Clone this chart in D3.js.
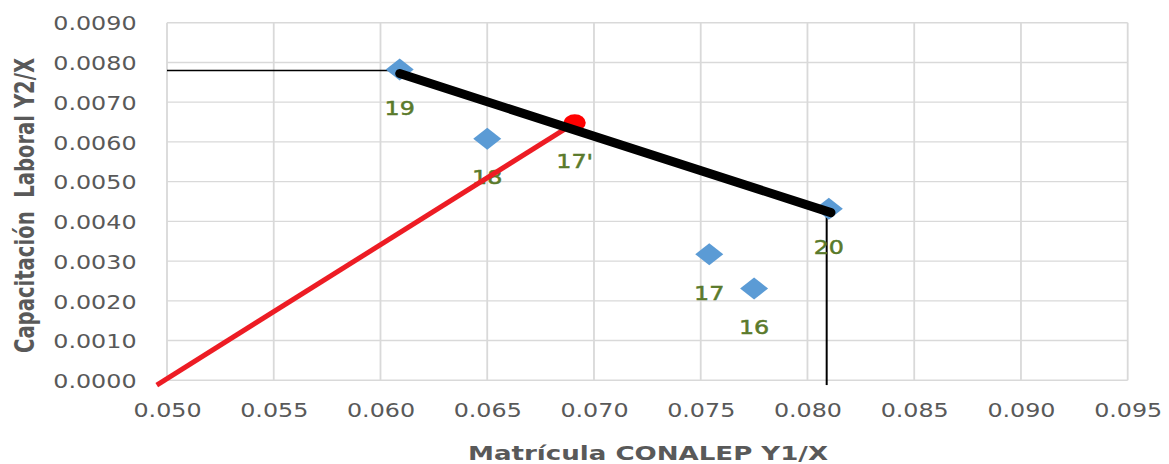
<!DOCTYPE html>
<html>
<head>
<meta charset="utf-8">
<script src="https://cdn.jsdelivr.net/npm/d3@7"></script>
<style>
  html, body { margin: 0; padding: 0; background: #fff; }
  svg { display: block; }
</style>
</head>
<body>
<svg id="chart" width="1169" height="464"></svg>
<script>
// ---- data ----
const pointLabels = ["16", "17", "18", "19", "20"];
const pointX = [0.0775, 0.0754, 0.0650, 0.0609, 0.0810];
const pointY = [0.00231, 0.00317, 0.00608, 0.00782, 0.00432];

const redPointLabel = ["17'"];
const redPointX = [0.0691];
const redPointY = [0.00648];

const redLineX = [0.04952, 0.0691];
const redLineY = [-0.00012, 0.00648];

const blackLineX = [0.0609, 0.0811];
const blackLineY = [0.00772, 0.00422];

const guideHX = [0.0500, 0.0608];
const guideHY = [0.0078, 0.0078];
const guideVX = [0.0809, 0.0809];
const guideVY = [0.00422, -0.00012];

const xTickValues = [0.050, 0.055, 0.060, 0.065, 0.070, 0.075, 0.080, 0.085, 0.090, 0.095];
const yTickValues = [0.0000, 0.0010, 0.0020, 0.0030, 0.0040, 0.0050, 0.0060, 0.0070, 0.0080, 0.0090];

const xTitle = "Matrícula CONALEP Y1/X";
const yTitle = "Capacitación  Laboral Y2/X";

// ---- layout ----
const svg = d3.select("#chart");
const x = d3.scaleLinear().domain([0.050, 0.095]).range([167, 1127.7]);
const y = d3.scaleLinear().domain([0, 0.009]).range([380.3, 22.7]);
const SX = 1.19; // horizontal stretch of glyphs in reference
const FONT = "'DejaVu Sans', Verdana, sans-serif";

// gridlines
const grid = svg.append("g");
grid.selectAll("line.v").data(xTickValues).join("line")
  .attr("x1", d => x(d)).attr("x2", d => x(d))
  .attr("y1", y(0.009)).attr("y2", y(0))
  .attr("stroke", "#d9d9d9").attr("stroke-width", 1.8);
grid.selectAll("line.h").data(yTickValues).join("line")
  .attr("x1", x(0.050)).attr("x2", x(0.095))
  .attr("y1", d => y(d)).attr("y2", d => y(d))
  .attr("stroke", "#d9d9d9").attr("stroke-width", 1.4);

// axes (labels only)
const xAxis = svg.append("g").attr("transform", `translate(0,${y(0)})`)
  .call(d3.axisBottom(x).tickValues(xTickValues).tickFormat(d3.format(".3f")).tickSize(0));
xAxis.select(".domain").remove();
xAxis.selectAll("text")
  .attr("y", 36.7).attr("dy", 0)
  .attr("transform", `scale(${SX},1)`)
  .attr("fill", "#595959")
  .style("font-family", FONT).style("font-size", "20px");

const yAxis = svg.append("g").attr("transform", `translate(${x(0.050)},0)`)
  .call(d3.axisLeft(y).tickValues(yTickValues).tickFormat(d3.format(".4f")).tickSize(0));
yAxis.select(".domain").remove();
yAxis.selectAll("text")
  .attr("x", -30.5 / SX).attr("dy", "0.36em")
  .attr("transform", `scale(${SX},1)`)
  .attr("fill", "#595959")
  .style("font-family", FONT).style("font-size", "20px");

// titles
svg.append("text")
  .attr("x", 648).attr("y", 460)
  .attr("text-anchor", "middle")
  .attr("textLength", 360).attr("lengthAdjust", "spacingAndGlyphs")
  .attr("fill", "#595959").attr("font-weight", "bold")
  .style("font-family", FONT).style("font-size", "20px")
  .text(xTitle);

svg.append("text")
  .attr("xml:space", "preserve")
  .attr("transform", "translate(34,205.5) scale(1.33,1) rotate(-90)")
  .attr("text-anchor", "middle")
  .attr("textLength", 295).attr("lengthAdjust", "spacingAndGlyphs")
  .attr("fill", "#595959").attr("font-weight", "bold")
  .style("font-family", FONT).style("font-size", "19.5px")
  .text(yTitle);

const line = d3.line().x(d => x(d[0])).y(d => y(d[1]));

// thin guide lines
svg.append("path").datum(d3.zip(guideHX, guideHY)).attr("d", line)
  .attr("stroke", "#000").attr("stroke-width", 1.5).attr("fill", "none");
svg.append("path").datum(d3.zip(guideVX, guideVY)).attr("d", line)
  .attr("stroke", "#000").attr("stroke-width", 2).attr("fill", "none");

// data labels
const labelGroup = svg.append("g");
const labels = pointLabels.map((l, i) => ({ l, x: pointX[i], y: pointY[i] }))
  .concat(redPointLabel.map((l, i) => ({ l, x: redPointX[i], y: redPointY[i] })));
labelGroup.selectAll("text").data(labels).join("text")
  .attr("transform", d => `translate(${x(d.x)},${y(d.y) + 45.5}) scale(${SX},1)`)
  .attr("text-anchor", "middle")
  .attr("fill", "#5a7a2b")
  .attr("stroke", "#5a7a2b").attr("stroke-width", 0.5)
  .style("font-family", FONT).style("font-size", "20px")
  .text(d => d.l);

// diamonds
const diamond = "M0,-11 L14,0 L0,11 L-14,0 Z";
svg.append("g").selectAll("path").data(d3.zip(pointX, pointY)).join("path")
  .attr("d", diamond)
  .attr("transform", d => `translate(${x(d[0])},${y(d[1])})`)
  .attr("fill", "#5b9bd5");

// red line and point
svg.append("path").datum(d3.zip(redLineX, redLineY)).attr("d", line)
  .attr("stroke", "#ed1c24").attr("stroke-width", 5).attr("fill", "none");
svg.append("g").selectAll("ellipse").data(d3.zip(redPointX, redPointY)).join("ellipse")
  .attr("cx", d => x(d[0])).attr("cy", d => y(d[1]))
  .attr("rx", 11).attr("ry", 8.5)
  .attr("fill", "#ff0000");

// thick black line
svg.append("path").datum(d3.zip(blackLineX, blackLineY)).attr("d", line)
  .attr("stroke", "#000").attr("stroke-width", 9).attr("stroke-linecap", "round").attr("fill", "none");
</script>
</body>
</html>
